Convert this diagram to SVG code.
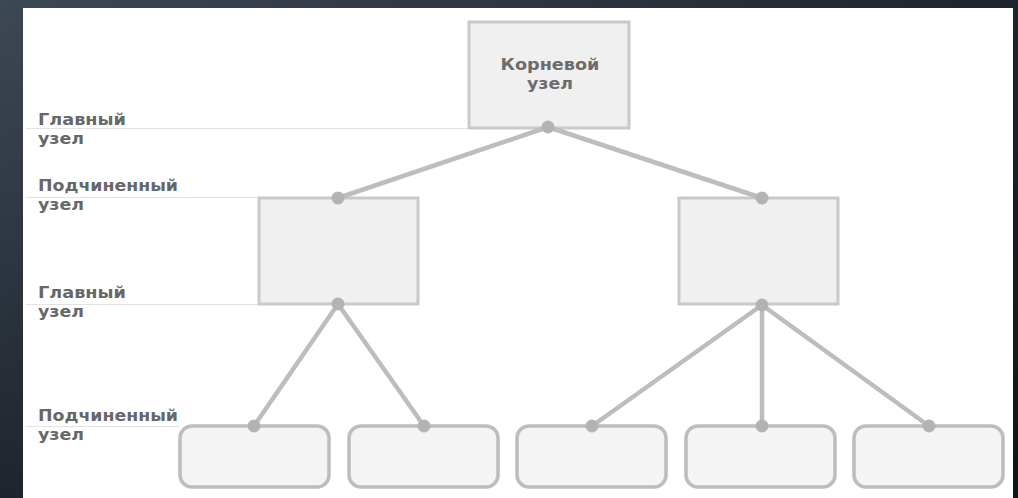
<svg xmlns="http://www.w3.org/2000/svg" width="1018" height="498" viewBox="0 0 1018 498">
  <defs>
    <linearGradient id="bg" x1="0" y1="0" x2="1" y2="1">
      <stop offset="0" stop-color="#3d4855"/>
      <stop offset="0.5" stop-color="#1f252e"/>
      <stop offset="1" stop-color="#10141a"/>
    </linearGradient>
    <style>
      .guide { stroke: #e2e2e2; stroke-width: 1.2; fill: none; }
      .label { font-family: "DejaVu Sans", "Liberation Sans", sans-serif; font-weight: bold; font-size: 16px; fill: #676767; }
      .title { font-family: "DejaVu Sans", "Liberation Sans", sans-serif; font-weight: bold; font-size: 16.5px; fill: #6c6c6c; text-anchor: middle; }
      .sq { fill: #f0f0f0; stroke: #c9c9c9; stroke-width: 3; }
      .leaf { fill: #f4f4f4; stroke: #bdbdbd; stroke-width: 3.5; }
      .link { stroke: #bdbdbd; stroke-width: 4.5; stroke-linecap: round; fill: none; }
      .dot { fill: #b3b3b3; }
    </style>
  </defs>

  <!-- slide background and white canvas -->
  <rect x="0" y="0" width="1018" height="498" fill="url(#bg)"/>
  <rect x="23" y="8" width="990" height="490" fill="#ffffff"/>

  <!-- level guides -->
  <g id="guides">
    <line class="guide" x1="26" y1="128.5" x2="468" y2="128.5"/>
    <line class="guide" x1="26" y1="197.5" x2="259" y2="197.5"/>
    <line class="guide" x1="26" y1="304.5" x2="259" y2="304.5"/>
    <line class="guide" x1="26" y1="426.5" x2="179" y2="426.5"/>
  </g>

  <!-- level labels -->
  <g id="labels">
    <text class="label" x="38" y="125" textLength="88" lengthAdjust="spacingAndGlyphs">Главный</text>
    <text class="label" x="38" y="144" textLength="46" lengthAdjust="spacingAndGlyphs">узел</text>
    <text class="label" x="38" y="191" textLength="140" lengthAdjust="spacingAndGlyphs">Подчиненный</text>
    <text class="label" x="38" y="210" textLength="46" lengthAdjust="spacingAndGlyphs">узел</text>
    <text class="label" x="38" y="298" textLength="88" lengthAdjust="spacingAndGlyphs">Главный</text>
    <text class="label" x="38" y="317" textLength="46" lengthAdjust="spacingAndGlyphs">узел</text>
    <text class="label" x="38" y="421" textLength="140" lengthAdjust="spacingAndGlyphs">Подчиненный</text>
    <text class="label" x="38" y="440" textLength="46" lengthAdjust="spacingAndGlyphs">узел</text>
  </g>

  <!-- nodes -->
  <g id="root">
    <rect class="sq" x="469" y="22" width="160" height="106"/>
    <text class="title" x="550" y="70" textLength="99" lengthAdjust="spacingAndGlyphs">Корневой</text>
    <text class="title" x="550" y="89" textLength="46" lengthAdjust="spacingAndGlyphs">узел</text>
  </g>
  <g id="mid-left">
    <rect class="sq" x="259" y="198" width="159" height="106"/>
  </g>
  <g id="mid-right">
    <rect class="sq" x="679" y="198" width="159" height="106"/>
  </g>
  <g id="leaf-1"><rect class="leaf" x="180" y="426" width="149" height="61" rx="12"/></g>
  <g id="leaf-2"><rect class="leaf" x="349" y="426" width="149" height="61" rx="12"/></g>
  <g id="leaf-3"><rect class="leaf" x="517" y="426" width="149" height="61" rx="12"/></g>
  <g id="leaf-4"><rect class="leaf" x="686" y="426" width="149" height="61" rx="12"/></g>
  <g id="leaf-5"><rect class="leaf" x="854" y="426" width="149" height="61" rx="12"/></g>

  <!-- connectors -->
  <g id="connectors">
    <line class="link" x1="548" y1="127" x2="338" y2="198"/>
    <line class="link" x1="548" y1="127" x2="762" y2="198"/>
    <line class="link" x1="338" y1="304" x2="254" y2="426"/>
    <line class="link" x1="338" y1="304" x2="424" y2="426"/>
    <line class="link" x1="762" y1="305" x2="592" y2="426"/>
    <line class="link" x1="762" y1="305" x2="762" y2="426"/>
    <line class="link" x1="762" y1="305" x2="929" y2="426"/>
    <circle class="dot" cx="548" cy="127" r="6.5"/>
    <circle class="dot" cx="338" cy="198" r="6.5"/>
    <circle class="dot" cx="762" cy="198" r="6.5"/>
    <circle class="dot" cx="338" cy="304" r="6.5"/>
    <circle class="dot" cx="762" cy="305" r="6.5"/>
    <circle class="dot" cx="254" cy="426" r="6.5"/>
    <circle class="dot" cx="424" cy="426" r="6.5"/>
    <circle class="dot" cx="592" cy="426" r="6.5"/>
    <circle class="dot" cx="762" cy="426" r="6.5"/>
    <circle class="dot" cx="929" cy="426" r="6.5"/>
  </g>
</svg>
